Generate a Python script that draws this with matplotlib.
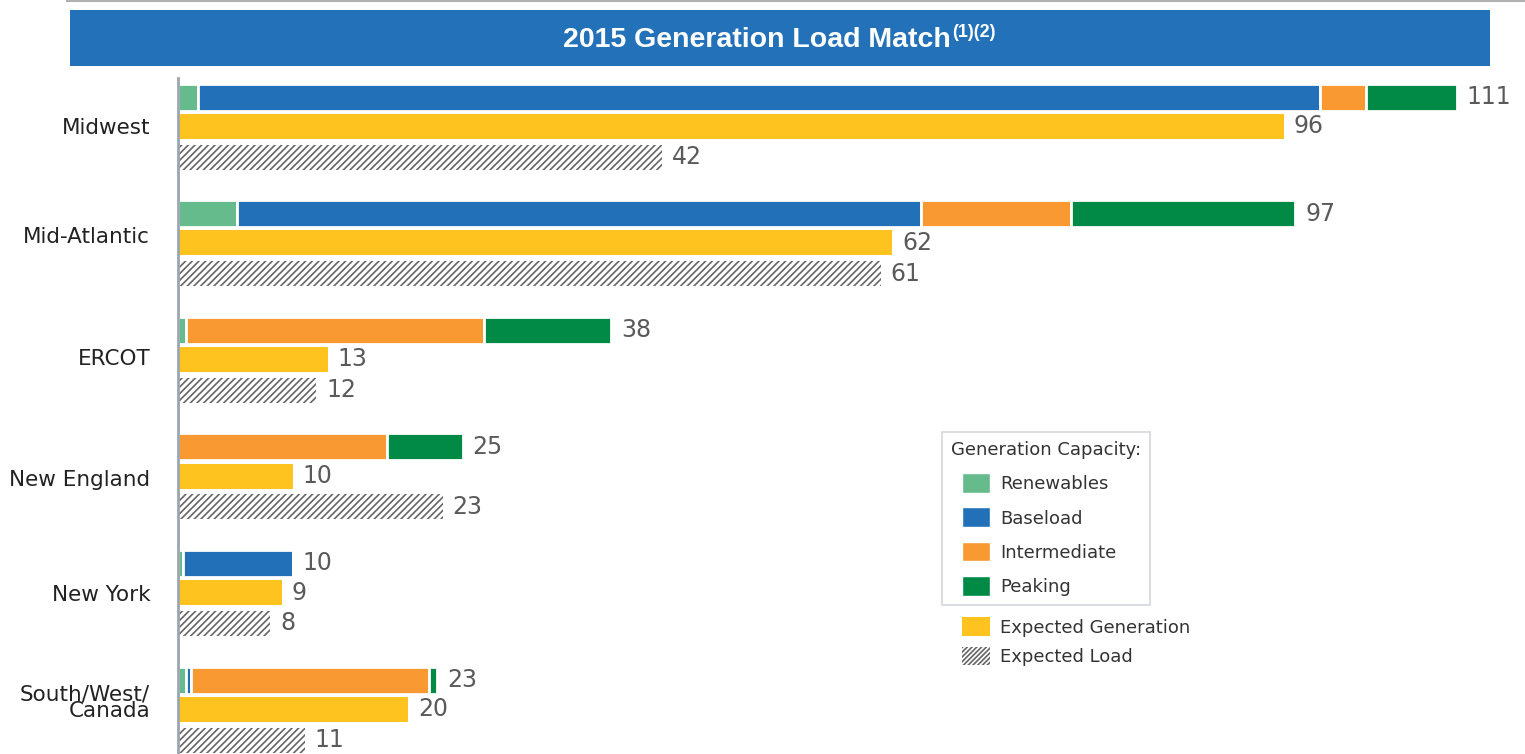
import matplotlib
matplotlib.use("Agg")
import matplotlib.pyplot as plt
from matplotlib.patches import Patch, Rectangle
from matplotlib.lines import Line2D
from matplotlib.text import Annotation
from matplotlib.legend_handler import HandlerPatch
import numpy as np

plt.rcParams['font.family'] = ['DejaVu Sans']
plt.rcParams['hatch.linewidth'] = 1.2

# ---- data ----
regions = ["Midwest", "Mid-Atlantic", "ERCOT", "New England", "New York", "South/West/\nCanada"]
renewables = [1.7, 5.1, 0.7, 0.0, 0.4, 0.7]
baseload = [97.4, 59.4, 0.0, 0.0, 9.6, 0.4]
intermediate = [4.0, 13.0, 25.9, 18.1, 0.0, 20.7]
peaking = [7.9, 19.5, 11.0, 6.6, 0.0, 0.7]
capacity_totals = [111, 97, 38, 25, 10, 23]
expected_generation = [96, 62, 13, 10, 9, 20]
expected_load = [42, 61, 12, 23, 8, 11]

series_names = ["Renewables", "Baseload", "Intermediate", "Peaking"]
colors = {
    "Renewables": "#66bb8c",
    "Baseload": "#2270b8",
    "Intermediate": "#f89a31",
    "Peaking": "#008a45",
}
gen_color = "#ffc31f"
title_blue = "#2372b9"
value_color = "#5a5a5a"
hatch_color = "#666666"

# ---- figure ----
W, H = 1525, 754
fig = plt.figure(figsize=(W / 100, H / 100), dpi=100)

ax_left, ax_top = 178, 78
ax = fig.add_axes([ax_left / W, 0, (W - ax_left) / W, (H - ax_top) / H])

# title banner
fig.add_artist(Line2D([67 / W, 1.0], [1 - 1 / H, 1 - 1 / H], color="#b0b0b0", lw=1.5))
fig.add_artist(Rectangle((70 / W, 1 - 66 / H), 1420 / W, 56 / H, transform=fig.transFigure,
                         facecolor=title_blue, edgecolor="none", zorder=1))
t = fig.text(563 / W, 1 - 40 / H, "2015 Generation Load Match", color="white",
             fontsize=20.5, fontweight="bold", ha="left", va="center",
             family=["Liberation Sans", "DejaVu Sans"], zorder=3)
sup = Annotation("(1)(2)", xy=(1.0, 0.8), xycoords=t, xytext=(1, 0), textcoords="offset points",
                 ha="left", va="center",
                 color="white", fontsize=13, fontweight="bold", annotation_clip=False,
                 family=["Liberation Sans", "DejaVu Sans"], zorder=3)
fig.add_artist(sup)

px_per_unit = 11.52
row_px = 29.3
group_px = 116.6
group_step = group_px / row_px
bar_h = 25 / row_px
cap_h = 27 / row_px

n = len(regions)
g = np.arange(n) * group_step
y_cap = g
y_gen = g + 1
y_load = g + 2.05

series = [renewables, baseload, intermediate, peaking]
left = np.zeros(n)
for name, vals in zip(series_names, series):
    vals = np.array(vals)
    ax.barh(y_cap, vals, left=left, height=cap_h, color=colors[name],
            edgecolor="white", linewidth=2)
    left = left + vals

ax.barh(y_gen, expected_generation, height=bar_h, color=gen_color, edgecolor="none")
ax.barh(y_load, expected_load, height=bar_h, facecolor="white", edgecolor=hatch_color,
        hatch="/////", linewidth=0)

lab_kw = dict(textcoords="offset points", va="center", ha="left",
              color=value_color, fontsize=17)
for i in range(n):
    ax.annotate(str(capacity_totals[i]), (left[i], y_cap[i]), xytext=(7, 0), **lab_kw)
    ax.annotate(str(expected_generation[i]), (expected_generation[i], y_gen[i]), xytext=(7, 0), **lab_kw)
    ax.annotate(str(expected_load[i]), (expected_load[i], y_load[i]), xytext=(7, 0), **lab_kw)

ax.set_xlim(0, (W - ax_left) / px_per_unit)
top_data = -(97 - ax_top) / row_px
bot_data = (H - 97) / row_px
ax.set_ylim(bot_data, top_data)

# region labels sit near the middle bar of each group, nudged as in the reference
label_nudge = np.array([0.0, -0.27, -0.07, 0.07, 0.0, -0.22])
ax.set_yticks(y_gen + label_nudge)
ax.set_yticklabels(regions, fontsize=15.5, color="#222222", linespacing=0.75)
ax.tick_params(axis="y", length=0, pad=20)
ax.set_xticks([])
for s in ["top", "right", "bottom"]:
    ax.spines[s].set_visible(False)
ax.spines["left"].set_color("#9aa6b0")
ax.spines["left"].set_linewidth(2)
ax.patch.set_alpha(0)


# legend handler drawing an indented square swatch
def indented_patch(legend, orig_handle, xdescent, ydescent, width, height, fontsize):
    indent = 8
    return Rectangle((-xdescent + indent, -ydescent - 1.5), width - indent, height + 3)


handler = HandlerPatch(patch_func=indented_patch)

handles1 = [Patch(facecolor=colors[nm], edgecolor="white", label=nm) for nm in series_names]
leg1 = fig.legend(handles=handles1, title="Generation Capacity:", loc="upper left",
                  bbox_to_anchor=(942 / W, 1 - 432 / H), borderaxespad=0,
                  frameon=True, fancybox=False,
                  fontsize=13, title_fontsize=13, handlelength=2.15, handleheight=0.95,
                  labelspacing=0.9, handletextpad=0.55, borderpad=0.5, labelcolor="#333333",
                  handler_map={Patch: handler})
leg1._legend_box.align = "left"
leg1.get_title().set_color("#333333")
leg1.get_frame().set_edgecolor("#c8ced4")
leg1.get_frame().set_linewidth(1.2)

handles2 = [Patch(facecolor=gen_color, edgecolor="none", label="Expected Generation"),
            Patch(facecolor="white", edgecolor=hatch_color, hatch="///////", linewidth=0,
                  label="Expected Load")]
leg2 = fig.legend(handles=handles2, loc="upper left", bbox_to_anchor=(955 / W, 1 - 610 / H),
                  borderaxespad=0, frameon=False, fontsize=13, handlelength=1.55,
                  handleheight=1.2, labelspacing=0.55, handletextpad=0.55,
                  labelcolor="#333333")

fig.savefig("out.png", dpi=100)
